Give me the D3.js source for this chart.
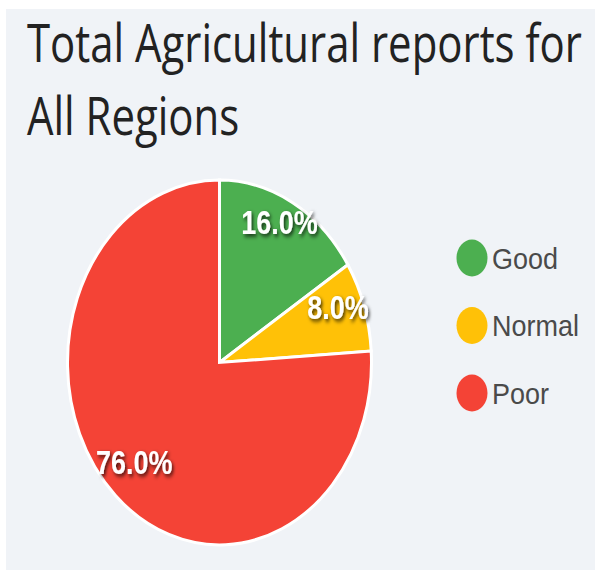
<!DOCTYPE html>
<html><head><meta charset="utf-8">
<script src="https://cdn.jsdelivr.net/npm/d3@7"></script>
<style>html,body{margin:0;padding:0;background:#fff;}svg{display:block;}</style>
</head><body>
<script>
const categories = ["Good", "Normal", "Poor"];
const values = [16.0, 8.0, 76.0];
const colors = ["#4caf50", "#ffc107", "#f44336"];
const titleLines = ["Total Agricultural reports for", "All Regions"];

const W = 595, H = 570;
const svg = d3.select("body").append("svg").attr("width", W).attr("height", H);

const defs = svg.append("defs");
const f = defs.append("filter").attr("id", "sh").attr("x", "-20%").attr("y", "-40%").attr("width", "140%").attr("height", "180%");
f.append("feDropShadow").attr("dx", 1.5).attr("dy", 2).attr("stdDeviation", 1.6).attr("flood-color", "#000").attr("flood-opacity", 0.75);

svg.append("rect").attr("x", 6).attr("y", 9).attr("width", W - 6).attr("height", H - 9).attr("fill", "#f0f3f7");

// Title: fit width of first line to 555 px, cap height ~38 px
const capTarget = 38, widthTarget = 555;
const probe = svg.append("text").attr("font-family", "'Open Sans', sans-serif").attr("font-size", 50).text(titleLines[0]);
const w50 = probe.node().getComputedTextLength();
probe.remove();
const fs = 50 * widthTarget / w50;
const tsy = capTarget / (fs * 0.714);
const tl = [{t: titleLines[0], y: 62}, {t: titleLines[1], y: 135}];
svg.append("g").selectAll("text").data(tl).join("text")
  .attr("transform", d => `translate(27,${d.y}) scale(1,${tsy})`)
  .attr("font-family", "'Open Sans', sans-serif").attr("font-size", fs)
  .attr("fill", "#222")
  .text(d => d.t);

// Pie
const cx = 219.5, cy = 362.5, r = 152, sy = 1.2;
const pie = d3.pie().sort(null).value(d => d)(values);
const arc = d3.arc().innerRadius(0).outerRadius(r);
const g = svg.append("g").attr("transform", `translate(${cx},${cy}) scale(1,${sy})`);
g.selectAll("path").data(pie).join("path")
  .attr("d", arc).attr("fill", (d, i) => colors[i])
  .attr("stroke", "#fff").attr("stroke-width", 3).attr("vector-effect", "non-scaling-stroke");

const labelArc = d3.arc().innerRadius(r * 0.82).outerRadius(r * 0.82);
svg.append("g").selectAll("text").data(pie).join("text")
  .attr("transform", d => {
    const c = labelArc.centroid(d);
    return `translate(${cx + c[0]},${cy + c[1] * sy - 9}) scale(1,${sy})`;
  })
  .attr("text-anchor", "middle").attr("dy", "0.36em")
  .attr("font-family", "'Liberation Sans', Arial, sans-serif").attr("font-weight", "bold")
  .attr("font-size", 27).attr("fill", "#fff").attr("filter", "url(#sh)")
  .text(d => d.data.toFixed(1) + "%");

// Legend
const items = svg.append("g").selectAll("g").data(categories).join("g")
  .attr("transform", (d, i) => `translate(472,${258 + i * 67.5})`);
items.append("ellipse").attr("rx", 15.5).attr("ry", 18.5).attr("fill", (d, i) => colors[i]);
items.append("text").attr("x", 20).attr("y", 0)
  .attr("transform", "scale(1,1.12)")
  .attr("dy", "0.35em")
  .attr("font-family", "'Liberation Sans', Arial, sans-serif").attr("font-size", 27)
  .attr("fill", "#4a4a4a").text(d => d);
</script>
</body></html>
